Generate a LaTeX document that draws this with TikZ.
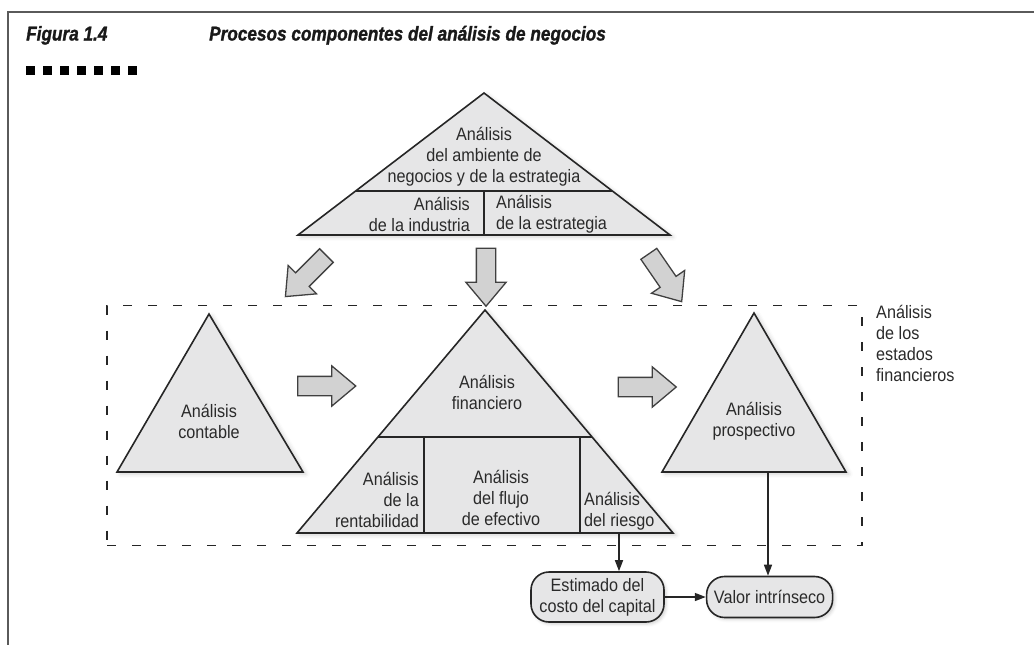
\documentclass[tikz,border=0pt]{standalone}
\usepackage{fontspec}
\setmainfont{Liberation Sans}[FakeStretch=0.9]
\newfontfamily\titlefont{Liberation Sans}[FakeStretch=0.86, FakeBold=1.3]
\usetikzlibrary{shapes.arrows, arrows.meta, positioning, calc, shadows.blur}
\definecolor{Ink}{HTML}{2A2A2A}
\definecolor{Gray90}{HTML}{E6E6E7}
\definecolor{Gray82}{HTML}{D2D2D2}
\definecolor{Gray35}{HTML}{5A5A5A}

\begin{document}
\begin{tikzpicture}[
    x=1pt, y=-1pt,
    % Global Styles
    font=\fontsize{18}{21}\selectfont,
    % Styles for the picture parts
    tri/.style={
        draw=black!85,
        fill=Gray90,
        line width=1.6pt,
        line join=miter,
        blur shadow={shadow xshift=3pt, shadow yshift=-2pt,
            shadow blur radius=4pt, shadow opacity=18}
    },
    divider/.style={
        draw=black!85,
        line width=1.6pt
    },
    txt/.style={
        text=Ink,
        inner sep=0pt
    },
    bigarrow/.style={
        single arrow,
        draw=black!75,
        fill=Gray82,
        line width=1.3pt,
        inner sep=0pt,
        minimum height=58pt,
        single arrow head extend=10.5pt,
        single arrow tip angle=80,
        single arrow head indent=0pt
    },
    box/.style={
        rectangle,
        rounded corners=18pt,
        draw=black!85,
        fill=Gray90,
        line width=1.6pt,
        inner sep=0pt,
        align=center,
        text=Ink,
        blur shadow={shadow xshift=2pt, shadow yshift=-2pt,
            shadow blur radius=3pt, shadow opacity=18}
    },
    frame/.style={
        draw=black!85,
        line width=1.8pt,
        dash pattern=on 9pt off 16pt,
        inner sep=0pt
    },
    heading/.style={
        anchor=base west,
        inner sep=0pt,
        text=black!90,
        font=\titlefont\fontsize{20}{24}\selectfont\bfseries\itshape
    },
    % Connector line style
    conn/.style={
        draw=black!85,
        -{Triangle[length=11pt,width=8pt]},
        line width=1.5pt
    }
]
    \useasboundingbox (0,0) rectangle (1034,645);

    % --- Page frame and heading ---
    \draw[Gray35, line width=2.5pt] (1034,12) -- (8,12) -- (8,645);
    \node[heading] (fig) at (26,40.5) {Figura 1.4};
    \node[heading] (title) at (209,40.5) {Procesos componentes del análisis de negocios};
    \foreach \i in {0,...,6}
        \fill[black] (25.5+17*\i,66) rectangle ++(9,9);

    % --- Financial statement analysis frame ---
    \node[frame, minimum width=755pt, minimum height=240pt] (fsa) at (484.5,425.5) {};
    \node[txt, anchor=west, align=left] (fsalbl) at (876,343) {Análisis\\de los\\estados\\financieros};

    % --- Top triangle: business strategy ---
    \coordinate (envTop) at (484,93);
    \coordinate (envL) at (298,235);
    \coordinate (envR) at (670,235);
    \draw[tri] (envTop) -- (envR) -- (envL) -- cycle;
    \draw[divider] ($(envL)!0.31!(envTop)$) -- ($(envR)!0.31!(envTop)$);
    \draw[divider] (484,191) -- (484,235);
    \node[txt, align=center] (env) at (484,157) {Análisis\\del ambiente de\\negocios y de la estrategia};
    \node[txt, align=right, anchor=east] (ind) at (470,214) {Análisis\\de la industria};
    \node[txt, align=left, anchor=west] (est) at (496,214) {Análisis\\de la estrategia};

    % --- Block arrows ---
    \node[bigarrow, rotate=-135] (toAcc) at (310,272) {\rule{0pt}{18pt}};
    \node[bigarrow, rotate=-90] (toFin) at (486,271.5) {\rule{0pt}{18pt}};
    \node[bigarrow, rotate=-55.5] (toPro) at (662,273) {\rule{0pt}{18pt}};
    \node[bigarrow] (accFin) at (321,386) {\rule{0pt}{18pt}};
    \node[bigarrow] (finPro) at (641.5,387) {\rule{0pt}{18pt}};

    % --- Accounting analysis ---
    \draw[tri] (209,314) -- (303,472) -- (117,472) -- cycle;
    \node[txt, align=center] (acc) at (209,421) {Análisis\\contable};

    % --- Financial analysis ---
    \coordinate (finTop) at (485,310);
    \coordinate (finL) at (297,533);
    \coordinate (finR) at (673,533);
    \draw[tri] (finTop) -- (finR) -- (finL) -- cycle;
    \draw[divider] ($(finL)!0.43!(finTop)$) -- ($(finR)!0.43!(finTop)$);
    \draw[divider] (424,437) -- (424,533);
    \draw[divider] (580,437) -- (580,533);
    \node[txt, align=center] (fin) at (487,392) {Análisis\\financiero};
    \node[txt, align=right, anchor=east] (rent) at (419,500) {Análisis\\de la\\rentabilidad};
    \node[txt, align=center] (flujo) at (501,498) {Análisis\\del flujo\\de efectivo};
    \node[txt, align=left, anchor=west] (riesgo) at (584,511) {Análisis\\del riesgo};

    % --- Prospective analysis ---
    \draw[tri] (754,313) -- (846,472) -- (662,472) -- cycle;
    \node[txt, align=center] (pros) at (754,421) {Análisis\\prospectivo};

    % --- Valuation ---
    \node[box, minimum width=133pt, minimum height=50pt] (estimado) at (597.5,597) {Estimado del\\costo del capital};
    \node[box, minimum width=126pt, minimum height=41pt, right=41pt of estimado] (valor) {Valor intrínseco};

    % --- Edges ---
    \coordinate (riesgoOut) at (619,533);
    \coordinate (prosOut) at (768,472);
    \draw[conn] (riesgoOut) -- (riesgoOut |- estimado.north);
    \draw[conn] (prosOut) -- (prosOut |- valor.north);
    \draw[conn] (estimado) -- (valor);

\end{tikzpicture}
\end{document}
